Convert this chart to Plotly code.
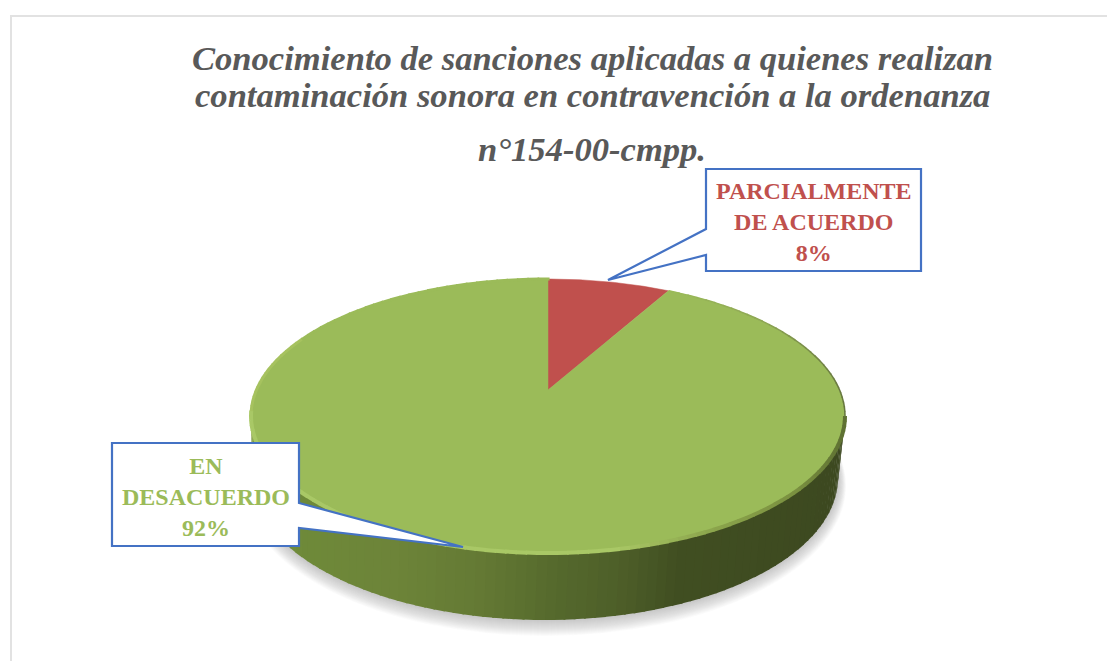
import math

import plotly.graph_objects as go

# Data
categories = ["PARCIALMENTE DE ACUERDO", "EN DESACUERDO"]
values = [8, 92]
slice_colors = ["#C0504D", "#9BBB59"]
label_lines = [["PARCIALMENTE", "DE ACUERDO", "8%"], ["EN", "DESACUERDO", "92%"]]
title_lines = [
    "Conocimiento de sanciones aplicadas a quienes realizan",
    "contaminación sonora en contravención a la ordenanza",
    "n°154-00-cmpp.",
]

W, H = 1107, 661
SERIF = "Liberation Serif"

# Tilted disc: centre of the pie and perspective of the top face
CX, APEX_Y, R = 548, 390, 291.6
PERSP_A, PERSP_C = -58, 0.19

# Front rim of the pie (ellipses seen on screen)
TOP_E = (548, 416, 297, 137)
BOTTOM_E = (545, 478, 293, 142)

SIDE_STOPS = [
    (251, "#7f9a42"), (300, "#6f8a3a"), (400, "#6d8439"), (480, "#657a35"),
    (560, "#55692d"), (620, "#4e5f29"), (680, "#414f22"), (845, "#3d4920"),
]
BEVEL_FRONT = [(251, "#a9c866"), (620, "#a9c866"), (720, "#8ba44c"), (800, "#7a9040"), (845, "#5f7133")]
BEVEL_BACK = [(668, "#9BBB59"), (760, "#8ea654"), (845, "#66763f")]


def project(theta):
    # theta in degrees, clockwise from the top of the disc
    u, v = math.sin(math.radians(theta)), math.cos(math.radians(theta))
    w = 1 + PERSP_C * v
    return CX + R * u / w, (PERSP_A * v + APEX_Y) / w


def slice_path(start, end):
    n = max(2, int((end - start) * 2))
    pts = [project(start + (end - start) * i / n) for i in range(n + 1)]
    pts = [(CX, APEX_Y)] + pts + [(CX, APEX_Y)]
    return [p[0] for p in pts], [p[1] for p in pts]


def ell(e, phi):
    cx, cy, rx, ry = e
    return cx + rx * math.cos(math.radians(phi)), cy + ry * math.sin(math.radians(phi))


def hex_rgb(c):
    return tuple(int(c[i:i + 2], 16) for i in (1, 3, 5))


def ramp(stops, x):
    for (x0, c0), (x1, c1) in zip(stops, stops[1:]):
        if x <= x1:
            t = max(0, (x - x0) / (x1 - x0))
            a, b = hex_rgb(c0), hex_rgb(c1)
            return "rgb(%d,%d,%d)" % tuple(a[i] + (b[i] - a[i]) * t for i in range(3))
    return stops[-1][1]


def poly(pts):
    return "M" + " L".join(f"{x:.1f},{y:.1f}" for x, y in pts) + " Z"


shapes = []

# Frame, only top and left show
line_style = dict(color="#e2e2e2", width=2)
shapes.append(dict(type="line", x0=10, y0=16, x1=W, y1=16, line=line_style, layer="below"))
shapes.append(dict(type="line", x0=11, y0=16, x1=11, y1=H, line=line_style, layer="below"))

# Soft shadow under the pie
for g in range(16, 0, -1):
    shapes.append(dict(
        type="circle", x0=545 - 293 - g * 0.5, x1=545 + 293 + g * 0.5,
        y0=478 - 142, y1=478 + 142 + g,
        fillcolor="rgba(150,150,155,0.04)", line_width=0, layer="below",
    ))

# Side wall, strip by strip so the shading runs left to right
steps = 90
for i in range(steps):
    a, b = 180 * i / steps, 180 * (i + 1) / steps + 0.4
    pts = [ell(TOP_E, a), ell(TOP_E, b), ell(BOTTOM_E, b), ell(BOTTOM_E, a)]
    shapes.append(dict(
        type="path", path=poly(pts), fillcolor=ramp(SIDE_STOPS, ell(TOP_E, (a + b) / 2)[0]),
        line_width=0, layer="below",
    ))

# Bevel on the edge of the top face
for i in range(steps * 2):
    a, b = 360 * i / (steps * 2), 360 * (i + 1) / (steps * 2) + 0.3
    x0, y0 = ell(TOP_E, a)
    x1, y1 = ell(TOP_E, b)
    if 0 <= a <= 180:
        col = ramp(BEVEL_FRONT, x0)
        wid = 4
    elif x0 < CX:
        col = "#a6c25f" if y0 > 340 else "#9BBB59"
        wid = 3
    else:
        if x0 < 668:
            continue
        col = ramp(BEVEL_BACK, x0)
        wid = 1.5
    shapes.append(dict(
        type="path", path=f"M{x0:.1f},{y0:.1f} L{x1:.1f},{y1:.1f}",
        line=dict(color=col, width=wid), layer="above",
    ))

# Callout boxes
callouts = [
    [(706, 169), (921, 169), (921, 271), (706, 271), (706, 255), (608, 280), (706, 229)],
    [(112, 443), (299, 443), (299, 503), (463, 547), (299, 528), (299, 546), (112, 546)],
]
for pts in callouts:
    shapes.append(dict(
        type="path", path=poly(pts), fillcolor="white",
        line=dict(color="#4472C4", width=2.2), layer="above",
    ))

fig = go.Figure()

# Slices, clockwise from the top
start = 0
for name, val, col in zip(categories, values, slice_colors):
    end = start + val / sum(values) * 360
    xs, ys = slice_path(start, end)
    fig.add_trace(go.Scatter(
        x=xs, y=ys, mode="lines", fill="toself", fillcolor=col,
        line=dict(color=col, width=0.5), name=name, hoverinfo="name", showlegend=False,
    ))
    start = end

annotations = []
title_pos = [(592, 58), (592, 95), (592, 149)]
for text, (x, y) in zip(title_lines, title_pos):
    annotations.append(dict(
        x=x, y=y, xref="x", yref="y", text=f"<b><i>{text}</i></b>", showarrow=False,
        font=dict(family=SERIF, size=34.6, color="#595959"),
    ))

label_pos = [(814, 222), (206, 497)]
for lines, (x, y), col in zip(label_lines, label_pos, slice_colors):
    annotations.append(dict(
        x=x, y=y, xref="x", yref="y", text="<b>" + "<br>".join(lines) + "</b>",
        showarrow=False, align="center",
        font=dict(family=SERIF, size=24, color=col),
    ))

fig.update_layout(
    width=W, height=H, margin=dict(l=0, r=0, t=0, b=0),
    paper_bgcolor="white", plot_bgcolor="white", showlegend=False,
    xaxis=dict(range=[0, W], visible=False, fixedrange=True),
    yaxis=dict(range=[H, 0], visible=False, fixedrange=True),
    shapes=shapes, annotations=annotations,
)

fig.write_html(
    "out.html",
    config={"displayModeBar": False},
    post_script="document.body.style.margin='0';",
)
